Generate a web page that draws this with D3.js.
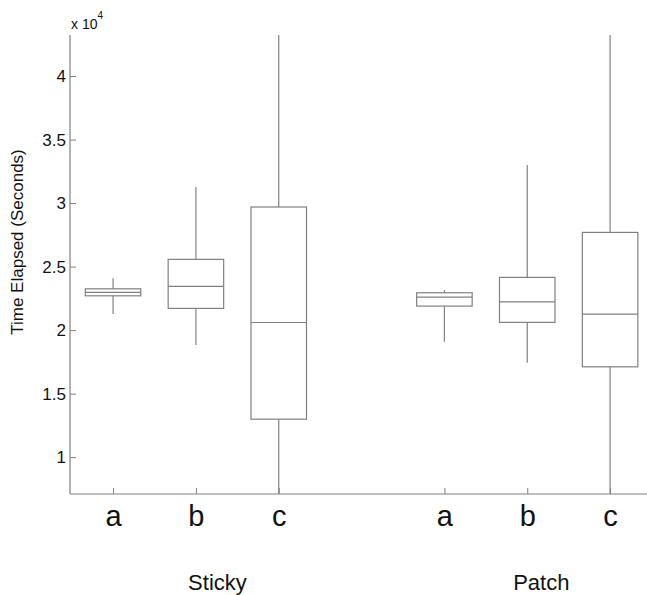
<!DOCTYPE html>
<html lang="en">
<head>
    <meta charset="UTF-8">
    <title>Time Elapsed box plot</title>
    <script src="https://d3js.org/d3.v7.min.js"></script>
    <style>
        body {
            margin: 0;
            font-family: "Liberation Sans", Arial, sans-serif;
            background: #fff;
        }
        svg {
            display: block;
        }
    </style>
</head>
<body>
    <svg id="chart" width="647" height="595"></svg>
    <script>
        // values, in seconds
        const labels = ["a", "b", "c", "a", "b", "c"];
        const positions = [1, 2, 3, 5, 6, 7];
        const whiskerLow = [21260, 18820, 3000, 19080, 17430, 3000];
        const q1 = [22700, 21710, 12990, 21890, 20610, 17110];
        const medians = [22970, 23440, 20600, 22600, 22230, 21260];
        const q3 = [23250, 25570, 29690, 22940, 24150, 27690];
        const whiskerHigh = [24090, 31260, 46000, 23150, 33000, 46000];

        const groupNames = ["Sticky", "Patch"];
        const groupPos = [2.26, 6.17];
        const yTicks = [10000, 15000, 20000, 25000, 30000, 35000, 40000];

        const width = 647, height = 595;
        const plotLeft = 70, plotRight = 651.5, plotTop = 35, plotBottom = 494;
        const boxWidth = 0.67;
        const stroke = "#808080";

        const x = d3.scaleLinear().domain([0.48, 7.5]).range([plotLeft, plotRight]);
        const y = d3.scaleLinear().domain([7100, 43230]).range([plotBottom, plotTop]);

        const svg = d3.select("#chart");

        svg.append("defs").append("clipPath").attr("id", "plot")
            .append("rect")
            .attr("x", plotLeft).attr("y", plotTop)
            .attr("width", plotRight - plotLeft).attr("height", plotBottom - plotTop);

        const data = labels.map((l, i) => ({
            label: l, pos: positions[i], lo: whiskerLow[i], q1: q1[i],
            med: medians[i], q3: q3[i], hi: whiskerHigh[i]
        }));

        // boxes
        const g = svg.append("g").attr("clip-path", "url(#plot)")
            .attr("fill", "none").attr("stroke", stroke).attr("stroke-width", 1.2);

        const box = g.selectAll("g.box").data(data).enter().append("g").attr("class", "box");

        box.append("line")
            .attr("x1", d => x(d.pos)).attr("x2", d => x(d.pos))
            .attr("y1", d => y(d.q3)).attr("y2", d => y(d.hi));
        box.append("line")
            .attr("x1", d => x(d.pos)).attr("x2", d => x(d.pos))
            .attr("y1", d => y(d.q1)).attr("y2", d => y(d.lo));
        box.append("rect")
            .attr("x", d => x(d.pos - boxWidth / 2))
            .attr("width", d => x(d.pos + boxWidth / 2) - x(d.pos - boxWidth / 2))
            .attr("y", d => y(d.q3))
            .attr("height", d => y(d.q1) - y(d.q3));
        box.append("line")
            .attr("x1", d => x(d.pos - boxWidth / 2)).attr("x2", d => x(d.pos + boxWidth / 2))
            .attr("y1", d => y(d.med)).attr("y2", d => y(d.med));

        // y axis
        const yAxis = svg.append("g")
            .attr("transform", `translate(${plotLeft},0)`)
            .call(d3.axisLeft(y).tickValues(yTicks).tickFormat(d => d / 10000)
                .tickSizeInner(-6).tickSizeOuter(0).tickPadding(4));
        yAxis.select(".domain").remove();
        yAxis.selectAll(".tick line").attr("stroke", stroke);
        yAxis.selectAll("text").attr("fill", "#111").style("font-size", "17px")
            .style("font-family", "'Liberation Sans', Arial, sans-serif");

        // x axis
        const xAxis = svg.append("g")
            .attr("transform", `translate(0,${plotBottom})`)
            .call(d3.axisBottom(x).tickValues(positions).tickFormat((d, i) => labels[i])
                .tickSizeInner(-6).tickSizeOuter(0));
        xAxis.select(".domain").remove();
        xAxis.selectAll(".tick line").attr("stroke", stroke);
        xAxis.selectAll("text").attr("fill", "#111").attr("y", 32).attr("dy", 0)
            .style("font-size", "29px")
            .style("font-family", "'Liberation Sans', Arial, sans-serif");

        // axis lines
        svg.append("line").attr("x1", plotLeft).attr("x2", plotLeft).attr("y1", plotTop).attr("y2", plotBottom)
            .attr("stroke", stroke).attr("stroke-width", 1.2);
        svg.append("line").attr("x1", plotLeft).attr("x2", plotRight).attr("y1", plotBottom).attr("y2", plotBottom)
            .attr("stroke", stroke).attr("stroke-width", 1.2);

        // group labels
        svg.selectAll("text.group").data(groupNames).enter().append("text")
            .attr("class", "group")
            .attr("x", (d, i) => x(groupPos[i]))
            .attr("y", 590)
            .attr("text-anchor", "middle")
            .attr("fill", "#111")
            .style("font-size", "22px")
            .text(d => d);

        // exponent label
        const ex = svg.append("text").attr("x", 71).attr("y", 29)
            .attr("fill", "#111").style("font-size", "14px");
        ex.append("tspan").text("x 10");
        ex.append("tspan").attr("dy", -10).style("font-size", "10px").text("4");

        // y axis title
        svg.append("text")
            .attr("transform", `translate(23,242) rotate(-90)`)
            .attr("text-anchor", "middle")
            .attr("fill", "#111")
            .style("font-size", "17px")
            .text("Time Elapsed (Seconds)");
    </script>
</body>
</html>
